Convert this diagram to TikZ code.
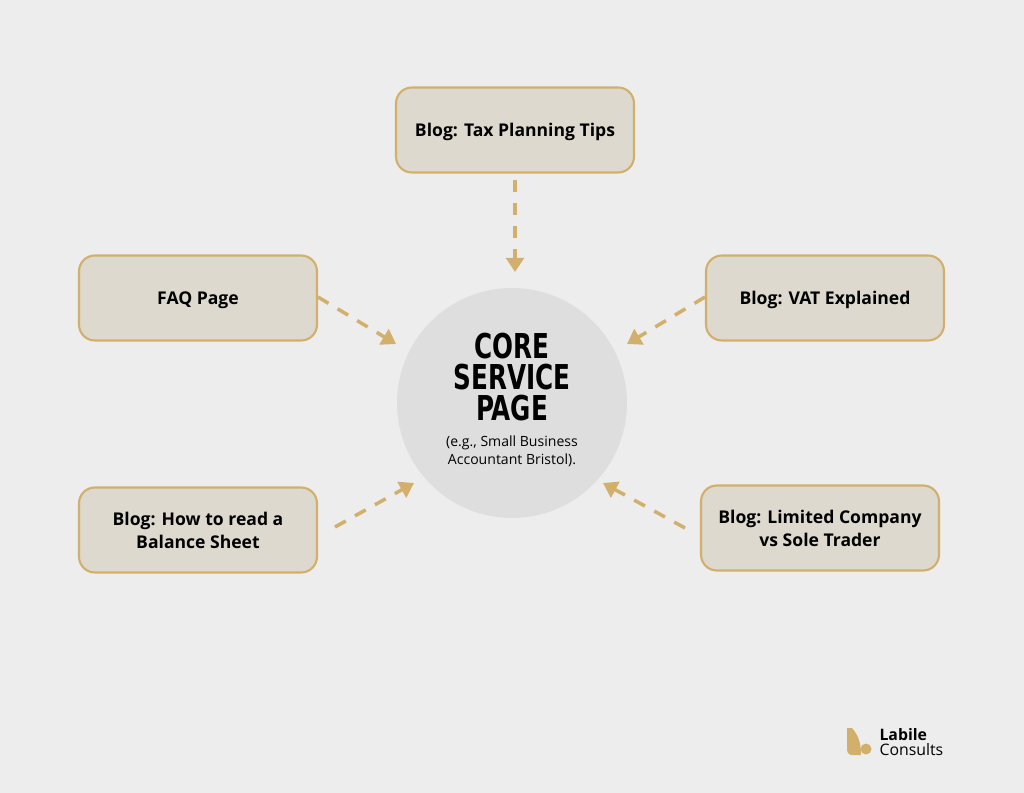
\documentclass[tikz,border=0pt]{standalone}
\usepackage{fontspec}
\setmainfont{Open Sans}
\newfontfamily\condfont[FakeStretch=0.8]{DejaVu Sans Condensed}
\usetikzlibrary{arrows.meta}
\definecolor{bgcol}{HTML}{EDEDED}
\definecolor{boxfill}{HTML}{DDD9CE}
\definecolor{gold}{HTML}{D2B06C}
\definecolor{corefill}{HTML}{DEDEDE}
\tikzset{every picture/.style={line width=0.75pt}}
\tikzset{
  topic/.style={draw=gold, fill=boxfill, line width=1.2pt, rounded corners=9pt,
    minimum width=4.76cm, minimum height=1.7cm, align=center, text depth=0pt,
    font=\fontsize{10}{13}\selectfont\bfseries},
  link/.style={draw=gold, line width=2pt, dash pattern=on 7pt off 6pt,
    -{Triangle[length=8pt,width=10pt]}}
}
\begin{document}
\begin{tikzpicture}[x=0.02cm,y=-0.02cm]
\fill[bgcol] (0,0) rectangle (1024,793);
\useasboundingbox (0,0) rectangle (1024,793);
%
\node[circle, fill=corefill, minimum size=4.6cm, inner sep=0pt] (core) at (512,403) {};
\node[align=center, font=\condfont\fontsize{19.5}{17.5}\selectfont\bfseries] (title) at (512,377) {CORE\\SERVICE\\PAGE};
\node[align=center, font=\fontsize{8}{10}\selectfont] (sub) at (512,451) {(e.g., Small Business\\Accountant Bristol).};
%
\node[topic] (tax) at (515,130) {Blog: Tax Planning Tips};
\node[topic] (faq) at (198,298) {FAQ Page};
\node[topic] (vat) at (825,298) {Blog: VAT Explained};
\node[topic] (sheet) at (198,530) {Blog: How to read a\\Balance Sheet};
\node[topic] (ltd) at (820,528) {Blog: Limited Company\\vs Sole Trader};
%
\coordinate (taxA) at (515,180);  \coordinate (taxB) at (515,272);
\coordinate (faqA) at (318,297);  \coordinate (faqB) at (396,344);
\coordinate (vatA) at (705,297);  \coordinate (vatB) at (627,344);
\coordinate (sheetA) at (335,527); \coordinate (sheetB) at (414,483);
\coordinate (ltdA) at (685,528);  \coordinate (ltdB) at (603,483);
\foreach \Source in {tax,faq,vat,sheet,ltd}
\draw[link] (\Source A) -- (\Source B);
%
\fill[gold] (847,728) -- (852,728) .. controls (858,735) and (861,742) .. (861,755) -- (852,755) .. controls (848,755) and (847,752) .. (847,748) -- cycle;
\fill[gold] (866,749) circle (5.5);
\node[anchor=west, font=\fontsize{9}{10}\selectfont\bfseries] (lab) at (873,735) {Labile};
\node[anchor=west, font=\fontsize{9}{10}\selectfont] (cons) at (873,750) {Consults};
\end{tikzpicture}
\end{document}
